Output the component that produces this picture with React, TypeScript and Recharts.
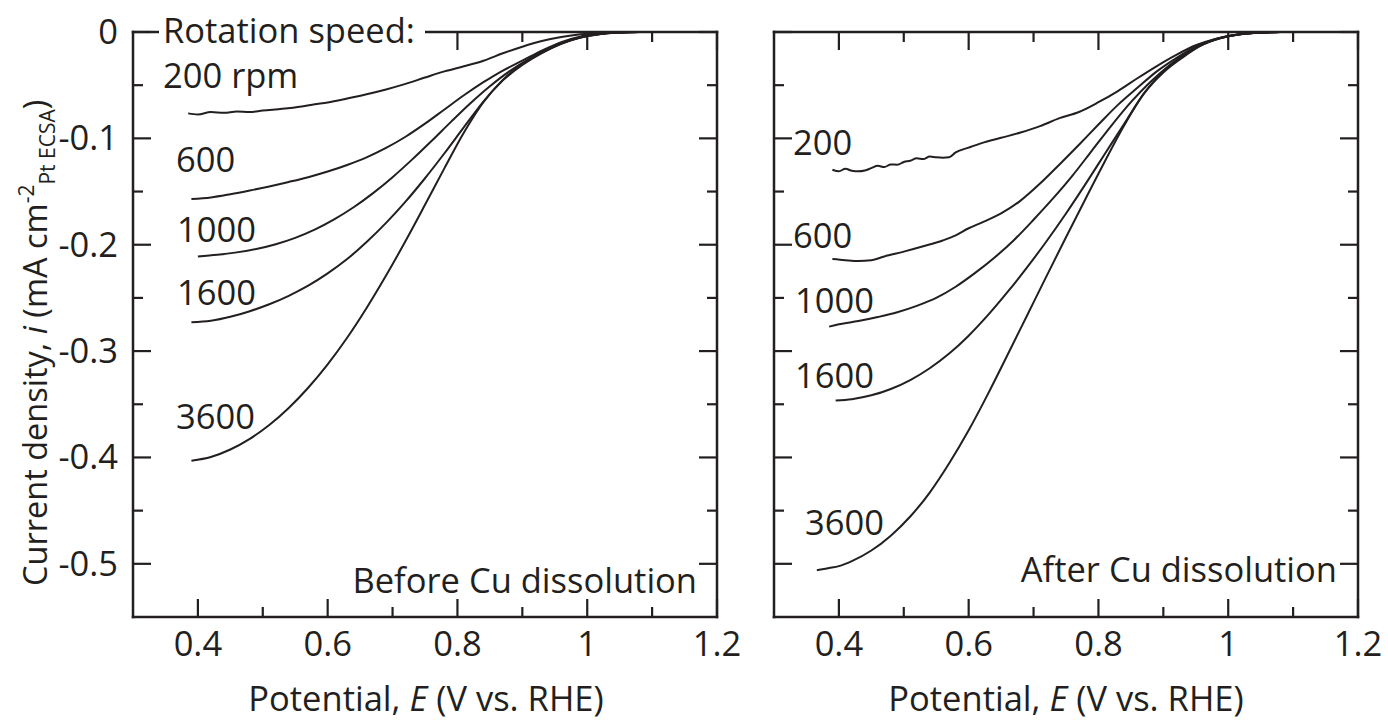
import { Line, LineChart, XAxis, YAxis } from 'recharts';

// Potential E (V vs. RHE) and current density i (mA cm-2 Pt ECSA)
type Pair = [number, number];

const before200: Pair[] = [
  [0.385, -0.0765], [0.40, -0.0775], [0.42, -0.0752], [0.44, -0.076], [0.46, -0.0748], [0.48, -0.0752],
  [0.50, -0.0738], [0.53, -0.0722], [0.56, -0.07], [0.58, -0.068], [0.60, -0.0662], [0.63, -0.0625],
  [0.66, -0.0585], [0.69, -0.054], [0.72, -0.0488], [0.75, -0.0428], [0.78, -0.037], [0.81, -0.0322],
  [0.84, -0.027], [0.87, -0.02], [0.90, -0.0138], [0.93, -0.0085], [0.96, -0.0048], [0.99, -0.0022],
  [1.02, -0.0009], [1.05, -0.0003], [1.08, 0],
];
const before600: Pair[] = [
  [0.39, -0.157], [0.42, -0.1555], [0.45, -0.1525], [0.48, -0.149], [0.51, -0.1452], [0.54, -0.141],
  [0.57, -0.1365], [0.60, -0.1312], [0.63, -0.125], [0.66, -0.1178], [0.69, -0.109], [0.72, -0.0985],
  [0.75, -0.0862], [0.78, -0.0728], [0.81, -0.0595], [0.84, -0.0472], [0.87, -0.0362], [0.90, -0.027],
  [0.93, -0.0175], [0.96, -0.0095], [0.99, -0.0042], [1.02, -0.0015], [1.05, -0.0004], [1.08, 0],
];
const before1000: Pair[] = [
  [0.40, -0.211], [0.43, -0.2095], [0.46, -0.2072], [0.49, -0.204], [0.52, -0.1995], [0.55, -0.1935],
  [0.58, -0.1858], [0.61, -0.1762], [0.64, -0.1648], [0.67, -0.1515], [0.70, -0.1365], [0.73, -0.12],
  [0.76, -0.1025], [0.79, -0.0845], [0.82, -0.067], [0.85, -0.051], [0.88, -0.037], [0.91, -0.0255],
  [0.94, -0.016], [0.97, -0.0085], [1.00, -0.0038], [1.03, -0.0013], [1.06, -0.0003], [1.08, 0],
];
const before1600: Pair[] = [
  [0.39, -0.273], [0.42, -0.2715], [0.45, -0.2678], [0.48, -0.2625], [0.51, -0.256], [0.54, -0.248],
  [0.57, -0.2385], [0.60, -0.227], [0.63, -0.2135], [0.66, -0.1975], [0.69, -0.1795], [0.72, -0.1595],
  [0.75, -0.1375], [0.78, -0.114], [0.81, -0.0895], [0.84, -0.0655], [0.87, -0.045], [0.90, -0.03],
  [0.93, -0.0195], [0.96, -0.0108], [0.99, -0.005], [1.02, -0.0018], [1.05, -0.0005], [1.08, 0],
];
const before3600: Pair[] = [
  [0.39, -0.403], [0.42, -0.3995], [0.45, -0.3925], [0.48, -0.3825], [0.51, -0.3695], [0.54, -0.3535],
  [0.57, -0.3345], [0.60, -0.3125], [0.63, -0.2875], [0.66, -0.2595], [0.69, -0.229], [0.72, -0.1965],
  [0.75, -0.1625], [0.78, -0.128], [0.81, -0.0945], [0.84, -0.066], [0.87, -0.0455], [0.90, -0.031],
  [0.93, -0.0198], [0.96, -0.011], [0.99, -0.0051], [1.02, -0.0018], [1.05, -0.0005], [1.08, 0],
];

const after200: Pair[] = [
  [0.39, -0.1295], [0.40, -0.131], [0.41, -0.1285], [0.42, -0.1305], [0.43, -0.131], [0.44, -0.1302],
  [0.45, -0.128], [0.46, -0.1258], [0.47, -0.127], [0.48, -0.1245], [0.49, -0.1248], [0.50, -0.1222],
  [0.51, -0.121], [0.52, -0.1188], [0.53, -0.1195], [0.54, -0.117], [0.55, -0.1178], [0.56, -0.1182],
  [0.57, -0.1178], [0.58, -0.1132], [0.60, -0.1087], [0.62, -0.1045], [0.65, -0.0995], [0.68, -0.0945],
  [0.71, -0.0885], [0.74, -0.081], [0.77, -0.0752], [0.80, -0.066], [0.83, -0.0555], [0.86, -0.0435],
  [0.89, -0.032], [0.92, -0.0215], [0.95, -0.0125], [0.98, -0.0065], [1.01, -0.0028], [1.04, -0.001],
  [1.08, 0],
];
const after600: Pair[] = [
  [0.39, -0.2135], [0.41, -0.2145], [0.43, -0.2152], [0.45, -0.2145], [0.47, -0.211], [0.50, -0.2065],
  [0.53, -0.2015], [0.56, -0.196], [0.58, -0.1912], [0.60, -0.1845], [0.62, -0.1792], [0.65, -0.1705],
  [0.68, -0.1585], [0.71, -0.1425], [0.74, -0.1245], [0.77, -0.106], [0.80, -0.087], [0.83, -0.0685],
  [0.86, -0.0525], [0.89, -0.037], [0.92, -0.0245], [0.95, -0.0138], [0.98, -0.0068], [1.01, -0.003],
  [1.04, -0.001], [1.08, 0],
];
const after1000: Pair[] = [
  [0.385, -0.277], [0.40, -0.2748], [0.43, -0.2718], [0.46, -0.268], [0.49, -0.2635], [0.52, -0.2575],
  [0.55, -0.25], [0.58, -0.2395], [0.61, -0.2265], [0.64, -0.212], [0.67, -0.1955], [0.70, -0.1765],
  [0.73, -0.1565], [0.76, -0.135], [0.79, -0.1115], [0.82, -0.088], [0.85, -0.066], [0.88, -0.047],
  [0.91, -0.031], [0.94, -0.0182], [0.97, -0.0092], [1.00, -0.0038], [1.03, -0.0013], [1.06, -0.0003],
  [1.08, 0],
];
const after1600: Pair[] = [
  [0.395, -0.3465], [0.42, -0.3452], [0.45, -0.3416], [0.48, -0.3356], [0.51, -0.3272], [0.54, -0.3161],
  [0.57, -0.3023], [0.60, -0.2855], [0.63, -0.266], [0.66, -0.2444], [0.69, -0.2213], [0.72, -0.1967],
  [0.75, -0.1706], [0.78, -0.143], [0.81, -0.1145], [0.84, -0.086], [0.87, -0.058], [0.90, -0.037],
  [0.93, -0.0232], [0.96, -0.0118], [0.99, -0.0054], [1.02, -0.0019], [1.05, -0.0005], [1.08, 0],
];
const after3600: Pair[] = [
  [0.366, -0.506], [0.385, -0.504], [0.40, -0.5022], [0.42, -0.4975], [0.45, -0.4875], [0.48, -0.4735],
  [0.51, -0.4555], [0.54, -0.433], [0.57, -0.4055], [0.60, -0.3745], [0.63, -0.34], [0.66, -0.3035],
  [0.69, -0.2665], [0.72, -0.2295], [0.75, -0.193], [0.78, -0.157], [0.81, -0.1215], [0.84, -0.0875],
  [0.87, -0.058], [0.90, -0.038], [0.93, -0.0238], [0.96, -0.0122], [0.99, -0.0055], [1.02, -0.0019],
  [1.05, -0.0005], [1.08, 0],
];

const BEFORE_LABELS = ['200 rpm', '600', '1000', '1600', '3600'];
const AFTER_LABELS = ['200', '600', '1000', '1600', '3600'];

const X_MAJOR_TICKS = [0.4, 0.6, 0.8, 1, 1.2];
const X_MINOR_TICKS = [0.5, 0.7, 0.9, 1.1];
const Y_MAJOR_TICKS = [0, -0.1, -0.2, -0.3, -0.4, -0.5];
const Y_MINOR_TICKS = [-0.05, -0.15, -0.25, -0.35, -0.45];

const X_TICKS = [...X_MAJOR_TICKS, ...X_MINOR_TICKS].sort((a, b) => a - b);
const Y_TICKS = [...Y_MAJOR_TICKS, ...Y_MINOR_TICKS].sort((a, b) => b - a);

const INK = '#231f20';
const FONT = '"Open Sans", "Noto Sans", sans-serif';
const FS = 34.5;
const MAJOR = 18;
const MINOR = 10;
const AXIS_LINE = { stroke: INK, strokeWidth: 2.5, strokeLinecap: 'square' as const };

const toPoints = (pairs: Pair[]) => pairs.map(([E, i]) => ({ E, i }));

// ticks point inward on all four sides; labels only on the outer axes
const makeTick = (side: 'bottom' | 'top' | 'left' | 'right', labels: boolean) => (p: any) => {
  const { x, y, payload } = p;
  const v = payload.value as number;
  const isX = side === 'bottom' || side === 'top';
  const major = isX ? X_MAJOR_TICKS.includes(v) : Y_MAJOR_TICKS.includes(v);
  const len = major ? MAJOR : MINOR;
  let line;
  if (side === 'bottom') line = <line x1={x} x2={x} y1={y} y2={y - len} />;
  else if (side === 'top') line = <line x1={x} x2={x} y1={y} y2={y + len} />;
  else if (side === 'left') line = <line x1={x} x2={x + len} y1={y} y2={y} />;
  else line = <line x1={x} x2={x - len} y1={y} y2={y} />;
  return (
    <g>
      <g stroke={INK} strokeWidth={2.2}>{line}</g>
      {labels && major && side === 'bottom' && (
        <text x={x} y={y + 39} textAnchor="middle" fill={INK} fontSize={FS} fontFamily={FONT}>{String(v)}</text>
      )}
      {labels && major && side === 'left' && (
        <text x={x - 15} y={y + 12} textAnchor="end" fill={INK} fontSize={FS} fontFamily={FONT}>{String(v)}</text>
      )}
    </g>
  );
};

type PanelProps = {
  left: number;
  width: number;
  yAxisWidth: number;
  marginRight: number;
  series: Pair[][];
  yLabels: boolean;
};

const Panel = ({ left, width, yAxisWidth, marginRight, series, yLabels }: PanelProps) => (
  <div style={{ position: 'absolute', left, top: 0 }}>
    <LineChart width={width} height={720} margin={{ top: 31, right: marginRight, bottom: 0, left: 0 }}>
      <XAxis xAxisId="b" type="number" dataKey="E" domain={[0.3, 1.2]} ticks={X_TICKS} interval={0}
        height={103} tickSize={0} tickMargin={0} tickLine={false} axisLine={AXIS_LINE}
        tick={makeTick('bottom', true)} allowDataOverflow />
      <XAxis xAxisId="t" orientation="top" type="number" dataKey="E" domain={[0.3, 1.2]} ticks={X_TICKS}
        interval={0} height={1} tickSize={0} tickMargin={0} tickLine={false} axisLine={AXIS_LINE}
        tick={makeTick('top', false)} allowDataOverflow />
      <YAxis yAxisId="l" type="number" domain={[-0.55, 0]} ticks={Y_TICKS} interval={0}
        width={yAxisWidth} tickSize={0} tickMargin={0} tickLine={false} axisLine={AXIS_LINE}
        tick={makeTick('left', yLabels)} allowDataOverflow />
      <YAxis yAxisId="r" orientation="right" type="number" domain={[-0.55, 0]} ticks={Y_TICKS} interval={0}
        width={1} tickSize={0} tickMargin={0} tickLine={false} axisLine={AXIS_LINE}
        tick={makeTick('right', false)} allowDataOverflow />
      {series.map((s, k) => (
        <Line key={k} xAxisId="b" yAxisId="l" data={toPoints(s)} dataKey="i" type="monotone"
          stroke={INK} strokeWidth={2} dot={false} isAnimationActive={false} />
      ))}
    </LineChart>
  </div>
);

const beforeLabelPos = [
  { x: 163, y: 88 }, { x: 176, y: 172 }, { x: 177, y: 242 }, { x: 177, y: 305 }, { x: 176, y: 429 },
];
const afterLabelPos = [
  { x: 793, y: 155 }, { x: 793, y: 248 }, { x: 795, y: 313 }, { x: 795, y: 388 }, { x: 805, y: 535 },
];

const XTitle = ({ cx }: { cx: number }) => (
  <text x={cx} y={711} textAnchor="middle">
    Potential, <tspan fontStyle="italic">E</tspan> (V vs. RHE)
  </text>
);

export default function App() {
  return (
    <div style={{ position: 'absolute', left: 0, top: 0, width: 1388, height: 720, background: '#fff' }}>
      <Panel left={0} width={760} yAxisWidth={133} marginRight={42} yLabels
        series={[before200, before600, before1000, before1600, before3600]} />
      <Panel left={760} width={628} yAxisWidth={14} marginRight={29} yLabels={false}
        series={[after200, after600, after1000, after1600, after3600]} />

      {/* annotations and axis titles */}
      <svg width={1388} height={720} style={{ position: 'absolute', left: 0, top: 0, pointerEvents: 'none' }}
        fontFamily={FONT} fontSize={FS} fill={INK}>
        <rect x={159} y={16} width={266} height={38} fill="#fff" />
        <text x={163} y={43}>Rotation speed:</text>
        {BEFORE_LABELS.map((t, k) => (
          <text key={t} x={beforeLabelPos[k].x} y={beforeLabelPos[k].y}>{t}</text>
        ))}
        {AFTER_LABELS.map((t, k) => (
          <text key={t} x={afterLabelPos[k].x} y={afterLabelPos[k].y}>{t}</text>
        ))}
        <text x={697} y={593} textAnchor="end">Before Cu dissolution</text>
        <text x={1337} y={582} textAnchor="end">After Cu dissolution</text>
        <XTitle cx={426} />
        <XTitle cx={1066} />
        <text transform="translate(47, 586) rotate(-90)" fontSize={32.5}>
          Current density, <tspan fontStyle="italic">i</tspan> (mA cm
          <tspan fontSize={21} dy={-13}>-2</tspan>
          <tspan fontSize={21} dy={21}>Pt ECSA</tspan>
          <tspan dy={-8}>)</tspan>
        </text>
      </svg>
    </div>
  );
}
